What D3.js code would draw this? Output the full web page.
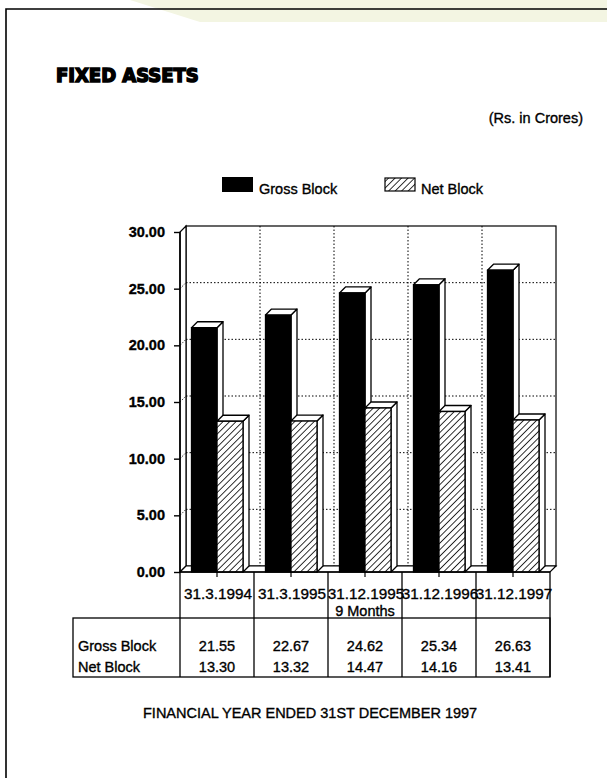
<!DOCTYPE html>
<html>
<head>
<meta charset="utf-8">
<script src="https://cdn.jsdelivr.net/npm/d3@7"></script>
<style>
  html, body { margin: 0; padding: 0; background: #fff; }
  svg { display: block; }
  text { font-family: "Liberation Sans", Arial, Helvetica, sans-serif; fill: #000; stroke: #000; stroke-width: 0.35px; }
</style>
</head>
<body>
<svg id="chart" width="607" height="778"></svg>
<script>
// Fixed assets, Rs. in Crores
const categories = ["31.3.1994", "31.3.1995", "31.12.1995", "31.12.1996", "31.12.1997"];
const categoryNotes = ["", "", "9 Months", "", ""];
const grossBlock = [21.55, 22.67, 24.62, 25.34, 26.63];
const netBlock = [13.30, 13.32, 14.47, 14.16, 13.41];
const seriesNames = ["Gross Block", "Net Block"];
const yTicks = [0, 5, 10, 15, 20, 25, 30];

const svg = d3.select("#chart");
const ink = "#000";

// hatch pattern for Net Block
const defs = svg.append("defs");
const pat = defs.append("pattern")
  .attr("id", "hatch")
  .attr("patternUnits", "userSpaceOnUse")
  .attr("width", 4.6).attr("height", 4.6)
  .attr("patternTransform", "rotate(45)");
pat.append("rect").attr("width", 4.6).attr("height", 4.6).attr("fill", "#fff");
pat.append("line").attr("x1", 0).attr("y1", 0).attr("x2", 0).attr("y2", 4.6)
  .attr("stroke", ink).attr("stroke-width", 1.6);

// faint band along the top edge of the page
svg.append("path")
  .attr("d", "M130,0 L607,0 L607,22 L200,22 Z")
  .attr("fill", "#f3f5e2");

// page frame
svg.append("path")
  .attr("d", "M6,778 L6,9 L607,9")
  .attr("fill", "none").attr("stroke", ink).attr("stroke-width", 1.6);

// headings
svg.append("text")
  .attr("x", 56).attr("y", 82)
  .style("font-family", "'DejaVu Sans Condensed', 'DejaVu Sans', sans-serif")
  .style("font-weight", "bold")
  .style("font-size", "20px")
  .style("stroke-width", "1.5px")
  .text("FIXED ASSETS");

svg.append("text")
  .attr("x", 583).attr("y", 123)
  .attr("text-anchor", "end")
  .style("font-size", "14.5px")
  .text("(Rs. in Crores)");

// plot geometry
const margin = { left: 180, right: 550, top: 232, bottom: 572 };
const depth = 6; // 3-D offset (right and up)

const x = d3.scaleBand().domain(categories).range([margin.left, margin.right]);
const y = d3.scaleLinear().domain([0, 30]).range([margin.bottom, margin.top]);

const plot = svg.append("g");

// back wall
plot.append("rect")
  .attr("x", margin.left + depth).attr("y", margin.top - depth)
  .attr("width", margin.right - margin.left).attr("height", margin.bottom - margin.top)
  .attr("fill", "#fff").attr("stroke", ink).attr("stroke-width", 1.2);

// dotted grid on the back wall
plot.selectAll("line.hgrid")
  .data(yTicks.filter(d => d > 0 && d < 30))
  .join("line").attr("class", "hgrid")
  .attr("x1", margin.left + depth).attr("x2", margin.right + depth)
  .attr("y1", d => y(d) - depth).attr("y2", d => y(d) - depth)
  .attr("stroke", ink).attr("stroke-width", 1).attr("stroke-dasharray", "1.5,2");

plot.selectAll("line.vgrid")
  .data(categories.slice(1))
  .join("line").attr("class", "vgrid")
  .attr("x1", d => x(d) + depth).attr("x2", d => x(d) + depth)
  .attr("y1", margin.top - depth).attr("y2", margin.bottom - depth)
  .attr("stroke", ink).attr("stroke-width", 1).attr("stroke-dasharray", "1.5,2");

// left side wall and floor
plot.append("path")
  .attr("d", `M${margin.left},${margin.bottom} L${margin.left},${margin.top} L${margin.left + depth},${margin.top - depth} L${margin.left + depth},${margin.bottom - depth} Z`)
  .attr("fill", "#fff").attr("stroke", ink).attr("stroke-width", 1.2);
plot.selectAll("line.sgrid")
  .data(yTicks.filter(d => d > 0 && d < 30))
  .join("line").attr("class", "sgrid")
  .attr("x1", margin.left).attr("x2", margin.left + depth)
  .attr("y1", d => y(d)).attr("y2", d => y(d) - depth)
  .attr("stroke", ink).attr("stroke-width", 0.8).attr("stroke-dasharray", "1.5,1.5");
plot.append("path")
  .attr("d", `M${margin.left},${margin.bottom} L${margin.left + depth},${margin.bottom - depth} L${margin.right + depth},${margin.bottom - depth} L${margin.right},${margin.bottom} Z`)
  .attr("fill", "#fff").attr("stroke", ink).attr("stroke-width", 1.2);

// 3-D bars
const groupOffset = 11.5;
const grossW = 25.5, netW = 26;

function bar3d(g, x0, w, v, fill) {
  const top = y(v), base = y(0);
  g.append("path") // side face
    .attr("d", `M${x0 + w},${base} L${x0 + w},${top} L${x0 + w + depth},${top - depth} L${x0 + w + depth},${base - depth} Z`)
    .attr("fill", "#fff").attr("stroke", ink).attr("stroke-width", 1.3).attr("stroke-linejoin", "round");
  g.append("path") // top face
    .attr("d", `M${x0},${top} L${x0 + depth},${top - depth} L${x0 + w + depth},${top - depth} L${x0 + w},${top} Z`)
    .attr("fill", "#fff").attr("stroke", ink).attr("stroke-width", 1.3).attr("stroke-linejoin", "round");
  g.append("rect") // front face
    .attr("x", x0).attr("y", top).attr("width", w).attr("height", base - top)
    .attr("fill", fill).attr("stroke", ink).attr("stroke-width", 1.3);
}

const bars = plot.append("g");
categories.forEach((c, i) => {
  const g = bars.append("g");
  const x0 = x(c) + groupOffset;
  bar3d(g, x0, grossW, grossBlock[i], ink);
  bar3d(g, x0 + grossW, netW, netBlock[i], "url(#hatch)");
});

// front axis line and ticks
plot.append("line")
  .attr("x1", margin.left).attr("x2", margin.left)
  .attr("y1", margin.top).attr("y2", margin.bottom)
  .attr("stroke", ink).attr("stroke-width", 1.6);
plot.append("line")
  .attr("x1", margin.left).attr("x2", margin.right)
  .attr("y1", margin.bottom).attr("y2", margin.bottom)
  .attr("stroke", ink).attr("stroke-width", 1.4);

const yAxis = d3.axisLeft(y).tickValues(yTicks).tickFormat(d3.format(".2f"))
  .tickSize(6).tickPadding(9);
const yg = svg.append("g").attr("transform", `translate(${margin.left},0)`).call(yAxis);
yg.select(".domain").remove();
yg.selectAll(".tick line").attr("stroke", ink).attr("stroke-width", 1.4);
yg.selectAll(".tick text")
  .style("font-family", "'Liberation Sans', Arial, sans-serif")
  .style("font-size", "14.5px").style("font-weight", "bold").attr("fill", ink);

// category row under the plot
const rowTop = margin.bottom, rowBottom = 618, tableBottom = 677, tableLeft = 73;
const cells = svg.append("g");
const boundaries = categories.map(c => x(c)).concat([margin.right]);
cells.selectAll("line.cb")
  .data(boundaries)
  .join("line").attr("class", "cb")
  .attr("x1", d => d).attr("x2", d => d)
  .attr("y1", rowTop).attr("y2", tableBottom)
  .attr("stroke", ink).attr("stroke-width", 1.3);
cells.selectAll("line.ct")
  .data(categories)
  .join("line").attr("class", "ct")
  .attr("x1", d => x(d) + x.bandwidth() / 2).attr("x2", d => x(d) + x.bandwidth() / 2)
  .attr("y1", rowTop).attr("y2", rowTop + 5)
  .attr("stroke", ink).attr("stroke-width", 1.2);

cells.selectAll("text.cat")
  .data(categories)
  .join("text").attr("class", "cat")
  .attr("x", d => x(d) + x.bandwidth() / 2 + 1)
  .attr("y", 599)
  .attr("text-anchor", "middle")
  .style("font-size", "15.3px")
  .text(d => d);
cells.selectAll("text.note")
  .data(categories.filter((c, i) => categoryNotes[i]))
  .join("text").attr("class", "note")
  .attr("x", d => x(d) + x.bandwidth() / 2)
  .attr("y", 616)
  .attr("text-anchor", "middle")
  .style("font-size", "14.5px")
  .text(d => categoryNotes[categories.indexOf(d)]);

// data table
cells.append("rect")
  .attr("x", tableLeft).attr("y", rowBottom)
  .attr("width", margin.right - tableLeft).attr("height", tableBottom - rowBottom)
  .attr("fill", "none").attr("stroke", ink).attr("stroke-width", 1.3);

const rows = [grossBlock, netBlock];
const rowBaselines = [651, 672];
rows.forEach((vals, r) => {
  cells.append("text")
    .attr("x", tableLeft + 5).attr("y", rowBaselines[r])
    .style("font-size", "14.5px")
    .text(seriesNames[r]);
  cells.selectAll(null)
    .data(vals)
    .join("text")
    .attr("x", (d, i) => x(categories[i]) + x.bandwidth() / 2)
    .attr("y", rowBaselines[r])
    .attr("text-anchor", "middle")
    .style("font-size", "14.5px")
    .text(d => d3.format(".2f")(d));
});

// legend
const legend = svg.append("g");
legend.append("rect").attr("x", 222).attr("y", 177).attr("width", 31).attr("height", 15)
  .attr("fill", ink);
legend.append("text").attr("x", 259).attr("y", 194).style("font-size", "14.5px").text(seriesNames[0]);
legend.append("rect").attr("x", 385).attr("y", 178).attr("width", 30).attr("height", 13)
  .attr("fill", "url(#hatch)").attr("stroke", ink).attr("stroke-width", 1.2);
legend.append("text").attr("x", 421).attr("y", 194).style("font-size", "14.5px").text(seriesNames[1]);

// footnote
svg.append("text")
  .attr("x", 143).attr("y", 718)
  .style("font-size", "14.5px")
  .text("FINANCIAL YEAR ENDED 31ST DECEMBER 1997");
</script>
</body>
</html>
